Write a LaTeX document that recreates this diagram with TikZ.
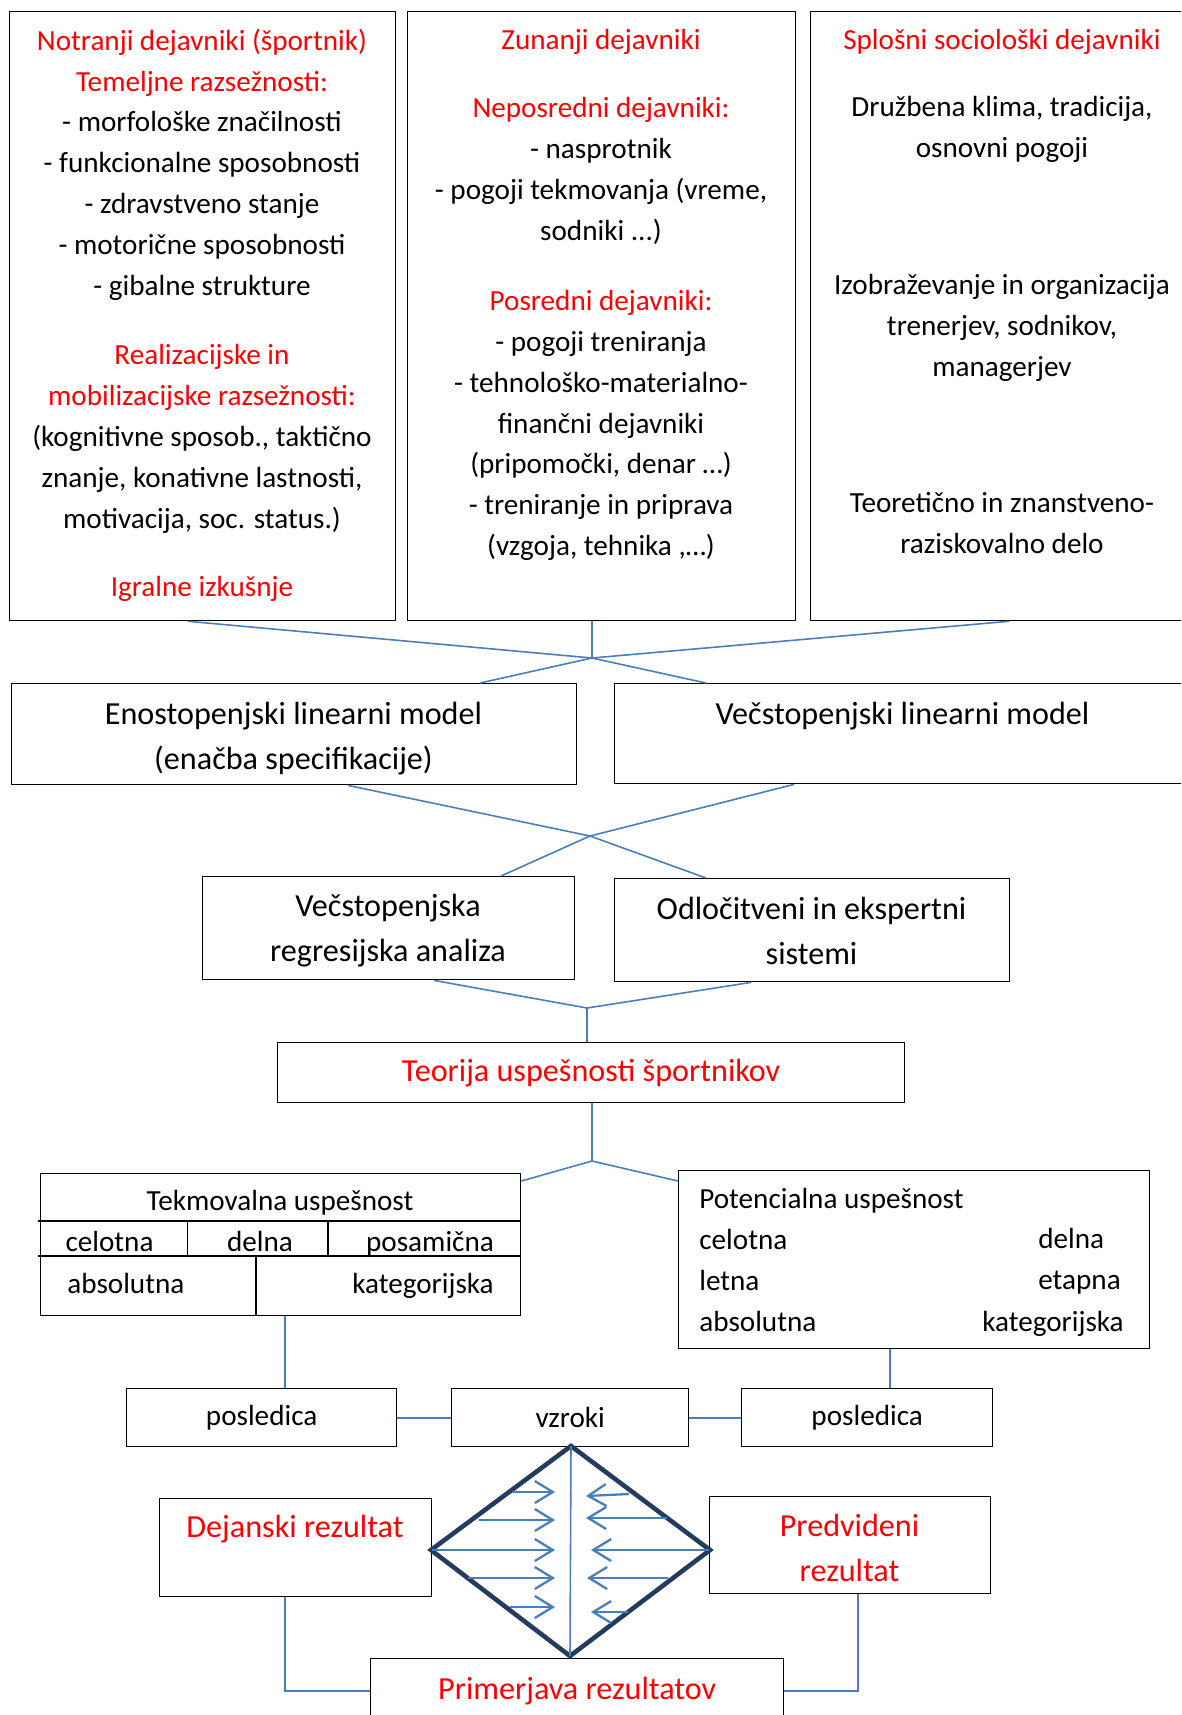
\documentclass[tikz,border=0pt]{standalone}
\usepackage{fontspec}
\setmainfont{Carlito}
\usetikzlibrary{arrows.meta}
\definecolor{hdred}{RGB}{255,0,0}
\definecolor{linkblue}{RGB}{74,126,187}
\definecolor{rimnavy}{RGB}{36,58,94}
\newcommand{\hdr}[1]{\textcolor{hdred}{#1}}
\begin{document}
\begin{tikzpicture}
[x=0.02cm, y=-0.02cm,
box/.style={rectangle, draw=black, line width=0.8pt, inner sep=0pt, anchor=north west},
smallfont/.style={font=\fontsize{16.6}{23.3}\selectfont},
bigfont/.style={font=\fontsize{18.3}{25.6}\selectfont},
txt/.style={smallfont, align=center, anchor=base, inner sep=0pt},
big/.style={bigfont, align=center, anchor=base, inner sep=0pt},
tabline/.style={draw=black, line width=0.8pt},
link/.style={draw=linkblue, line width=0.9pt},
arr/.style={draw=linkblue, line width=1.3pt, -{Straight Barb[length=0.36cm,width=0.44cm]}},
rim/.style={draw=rimnavy, line width=2.6pt, line join=miter}
]
\clip (0,0) rectangle (1181,1715);

\node[box, minimum width=7.72cm, minimum height=12.18cm] (inner) at (9,11) {};
\node[box, minimum width=7.76cm, minimum height=12.18cm] (outer) at (407,11) {};
\node[box, minimum width=7.68cm, minimum height=12.18cm] (social) at (810,11) {};

\node[txt] (innerA) at (202,295.7) {\hdr{Notranji dejavniki (športnik)}\\ \hdr{Temeljne razsežnosti:}\\ - morfološke značilnosti\\ - funkcionalne sposobnosti\\ - zdravstveno stanje\\ - motorične sposobnosti\\ - gibalne strukture};
\node[txt] (innerB) at (202,528) {\hdr{Realizacijske in}\\ \hdr{mobilizacijske razsežnosti:}\\ (kognitivne sposob., taktično\\ znanje, konativne lastnosti,\\ motivacija, soc. status.)};
\node[txt, text=hdred] (innerC) at (202,596.6) {Igralne izkušnje};

\node[txt, text=hdred] (outerA) at (601,49.6) {Zunanji dejavniki};
\node[txt] (outerB) at (601,240.2) {\hdr{Neposredni dejavniki:}\\ - nasprotnik\\ - pogoji tekmovanja (vreme,\\ sodniki ...)};
\node[txt] (outerC) at (601,555.8) {\hdr{Posredni dejavniki:}\\ - pogoji treniranja\\ - tehnološko-materialno-\\ finančni dejavniki\\ (pripomočki, denar …)\\ - treniranje in priprava\\ (vzgoja, tehnika ,…)};

\node[txt, text=hdred] (socialA) at (1002,49.6) {Splošni sociološki dejavniki};
\node[txt] (socialB) at (1002,157.8) {Družbena klima, tradicija,\\ osnovni pogoji};
\node[txt] (socialC) at (1002,376.1) {Izobraževanje in organizacija\\ trenerjev, sodnikov,\\ managerjev};
\node[txt] (socialD) at (1002,553.8) {Teoretično in znanstveno-\\ raziskovalno delo};

\node[box, minimum width=11.30cm, minimum height=2.02cm] (onestage) at (11,683) {};
\node[big] (onestageT) at (293.5,769.8) {Enostopenjski linearni model\\ (enačba specifikacije)};
\node[box, minimum width=11.54cm, minimum height=2.00cm] (multistage) at (614,683) {};
\node[big] (multistageT) at (902.5,724.7) {Večstopenjski linearni model};

\node[box, minimum width=7.44cm, minimum height=2.06cm] (regress) at (202,876) {};
\node[big] (regressT) at (388,961.9) {Večstopenjska\\ regresijska analiza};
\node[box, minimum width=7.90cm, minimum height=2.06cm] (expert) at (614,878) {};
\node[big] (expertT) at (811.5,964.9) {Odločitveni in ekspertni\\ sistemi};

\node[box, bigfont, text=hdred, minimum width=12.54cm, minimum height=1.20cm] (theory) at (277,1042) {Teorija uspešnosti športnikov};

\node[box, minimum width=9.60cm, minimum height=2.84cm] (contest) at (40,1173) {};
\draw[tabline] (38,1221) -- (520,1221);
\draw[tabline] (38,1256) -- (520,1256);
\draw[tabline] (187.5,1221) -- (187.5,1256);
\draw[tabline] (328,1221) -- (328,1256);
\draw[tabline] (256,1256) -- (256,1315);
\node[txt] (contestT) at (280,1210.8) {Tekmovalna uspešnost};
\node[txt] (contestA) at (109.5,1251) {celotna};
\node[txt] (contestB) at (260,1251) {delna};
\node[txt] (contestC) at (430,1251) {posamična};
\node[txt, anchor=base west] (contestD) at (67,1293.8) {absolutna};
\node[txt, anchor=base east] (contestE) at (494,1293.8) {kategorijska};

\node[box, minimum width=9.42cm, minimum height=3.56cm] (potential) at (678,1170) {};
\node[txt, align=left, anchor=base west] (potentialL) at (699,1331.1) {Potencialna uspešnost\\ celotna\\ letna\\ absolutna};
\node[txt, align=left, anchor=base west] (potentialR) at (1038,1289.9) {delna\\ etapna};
\node[txt, anchor=base west] (potentialK) at (982,1331.8) {kategorijska};

\node[box, smallfont, minimum width=5.40cm, minimum height=1.16cm] (effectL) at (126,1388) {posledica};
\node[box, smallfont, minimum width=4.74cm, minimum height=1.16cm] (causes) at (451,1388) {vzroki};
\node[box, smallfont, minimum width=5.02cm, minimum height=1.16cm] (effectR) at (741,1388) {posledica};

\node[box, minimum width=5.44cm, minimum height=1.96cm] (actual) at (159,1498) {};
\node[big, text=hdred] (actualT) at (295,1537.7) {Dejanski rezultat};
\node[box, minimum width=5.62cm, minimum height=1.94cm] (predicted) at (709,1496) {};
\node[big, text=hdred] (predictedT) at (849.5,1581.9) {Predvideni\\ rezultat};
\node[box, bigfont, text=hdred, minimum width=8.26cm, minimum height=1.28cm] (compare) at (370,1658) {Primerjava rezultatov};

\coordinate (j1) at (592,658);
\coordinate (j2) at (590,836);
\coordinate (j3) at (587,1008);
\coordinate (j4) at (592,1161);
\draw[link] (inner.south -| 188,0) -- (j1);
\draw[link] (outer.south -| j1) -- (j1);
\draw[link] (social.south -| 1009,0) -- (j1);
\draw[link] (j1) -- (onestage.north -| 480,0);
\draw[link] (j1) -- (multistage.north -| 706,0);
\draw[link] (onestage.south -| 348,0) -- (j2);
\draw[link] (multistage.south -| 794,0) -- (j2);
\draw[link] (j2) -- (regress.north -| 501,0);
\draw[link] (j2) -- (expert.north -| 706,0);
\draw[link] (regress.south -| 434,0) -- (j3);
\draw[link] (expert.south -| 751,0) -- (j3);
\draw[link] (j3) -- (theory.north -| j3);
\draw[link] (theory.south -| j4) -- (j4);
\draw[link] (j4) -- (contest.east |- 0,1181);
\draw[link] (j4) -- (potential.west |- 0,1181);
\draw[link] (contest.south -| 285,0) -- (effectL.north -| 285,0);
\draw[link] (potential.south -| 890,0) -- (effectR.north -| 890,0);
\draw[link] (effectL) -- (causes);
\draw[link] (causes) -- (effectR);
\draw[link] (actual.south -| 285,0) |- (compare);
\draw[link] (predicted.south -| 858,0) |- (compare);

\coordinate (dtop) at (571,1446);
\coordinate (dright) at (710,1550);
\coordinate (dbot) at (570,1656);
\coordinate (dleft) at (431,1550);
\draw[rim] (dtop) -- (dright) -- (dbot) -- (dleft) -- cycle;
\draw[link] (dtop) -- (dbot);
\draw[arr] (512,1492) -- (555,1492);
\draw[arr] (479,1520) -- (555,1520);
\draw[arr] (432,1550) -- (555,1550);
\draw[arr] (468,1578) -- (555,1578);
\draw[arr] (510,1607) -- (555,1607);
\draw[arr] (629,1494) -- (586,1496);
\draw[arr] (667,1518) -- (586,1518);
\draw[arr] (709,1550) -- (591,1550);
\draw[arr] (668,1578) -- (587,1578);
\draw[arr] (628,1612) -- (591,1612);
\end{tikzpicture}
\end{document}
